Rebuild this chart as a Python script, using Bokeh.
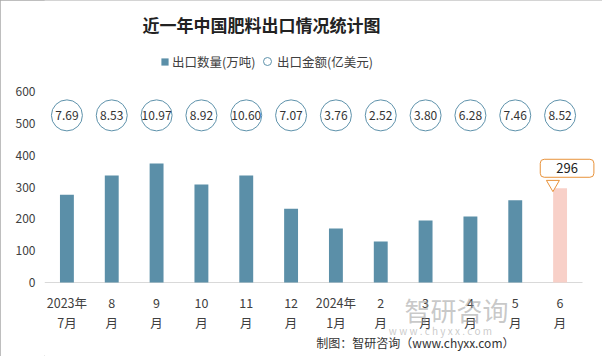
from bokeh.plotting import figure
from bokeh.models import (ColumnDataSource, Range1d, Label, Legend, LegendItem, FixedTicker)
from bokeh.transform import dodge
from bokeh.core.properties import value
from bokeh.embed import file_html
from bokeh.resources import INLINE

# ---------------- data ----------------
months_top = ["2023年", "8", "9", "10", "11", "12", "2024年", "2", "3", "4", "5", "6"]
months_bottom = ["7月", "月", "月", "月", "月", "月", "1月", "月", "月", "月", "月", "月"]
qty = [276, 336, 374, 308, 336, 232, 170, 129, 195, 207, 258, 296]          # 出口数量(万吨)
amount = [7.69, 8.53, 10.97, 8.92, 10.60, 7.07, 3.76, 2.52, 3.80, 6.28, 7.46, 8.52]  # 出口金额(亿美元)
y_ticks = [0, 100, 200, 300, 400, 500, 600]

title_text = "近一年中国肥料出口情况统计图"
legend_qty = "出口数量(万吨)"
legend_amt = "出口金额(亿美元)"
source_text = "制图：智研咨询（www.chyxx.com）"

# ---------------- layout / styles ----------------
W, H = 602, 356
LEFT, RIGHT = 44, 0            # frame borders (px)
Y_ZERO_PX, Y_TOP_PX = 282, 91  # page rows of value 0 and value 600
CAT_PX = 538 / 12              # width of one category (px)
FONT = "Noto Sans CJK SC"
BAR = "#5B8FA8"
HIGHLIGHT = "#F8D0C8"
ORANGE = "#E8923A"
TXT = "#404040"
CIRCLE_ROW = 525   # value level of the amount bubbles

unit_px = (Y_ZERO_PX - Y_TOP_PX) / 600.0
def ydata(py):
    return (Y_ZERO_PX - py) / unit_px

y_start = ydata(H)
y_end = ydata(0)
x_start = -0.5
x_end = x_start + (W - LEFT - RIGHT) / CAT_PX

n = len(qty)
idx = list(range(n))
bar_colors = [BAR] * (n - 1) + [HIGHLIGHT]
src = ColumnDataSource(dict(
    x=idx, q=qty, c=bar_colors,
    a=amount, al=[f"{v:.2f}" for v in amount],
    cy=[CIRCLE_ROW] * n,
    t1=months_top, t2=months_bottom,
    y1=[ydata(302)] * n, y2=[ydata(322)] * n,
))
last = ColumnDataSource(dict(x=[idx[-1]], q=[qty[-1]]))

p = figure(width=W, height=H, x_range=Range1d(x_start, x_end), y_range=Range1d(y_start, y_end),
           output_backend="svg", toolbar_location=None, x_axis_location=None,
           min_border_left=LEFT, min_border_right=RIGHT, min_border_top=0, min_border_bottom=0)
p.outline_line_color = None
p.background_fill_color = "white"
p.border_fill_color = "white"
p.xgrid.visible = False
p.ygrid.visible = False
p.styles = {"outline": "1px solid #A8A8A8", "outline-offset": "-1px"}

# category axis line
p.segment(x0=[x_start], x1=[n - 0.5], y0=[0], y1=[0], line_color="#D9D9D9", line_width=1)

bars = p.vbar(x="x", top="q", width=0.31, fill_color="c", line_color=None, source=src)

circ = p.scatter(x="x", y="cy", size=31, marker="circle", fill_color="white",
                 line_color="#5E92AB", line_width=1, source=src)
p.text(x="x", y="cy", text="al", text_align="center", text_baseline="middle",
       text_font=value(FONT), text_font_size="12px", text_color="#333333", source=src)

# category labels (two lines)
for col_t, col_y in (("t1", "y1"), ("t2", "y2")):
    p.text(x="x", y=col_y, text=col_t, text_align="center", text_baseline="middle",
           text_font=value(FONT), text_font_size="12.5px", text_color=TXT, source=src)

ya = p.yaxis[0]
ya.ticker = FixedTicker(ticks=y_ticks)
ya.axis_line_color = None
ya.major_tick_line_color = None
ya.minor_tick_line_color = None
ya.major_tick_out = 0
ya.major_tick_in = 0
ya.major_label_text_font = FONT
ya.major_label_text_font_size = "12px"
ya.major_label_text_color = TXT
ya.major_label_standoff = 9

# callout for the latest month
tri = p.scatter(x=dodge("x", -0.16), y=dodge("q", 13),
                marker="inverted_triangle", size=13, fill_color="white",
                line_color=ORANGE, line_width=1, source=last)
p.add_layout(Label(x=idx[-1], y=qty[-1], text=str(qty[-1]), x_offset=7, y_offset=20,
                   text_align="center", text_baseline="middle", text_font=FONT,
                   text_font_size="13px", text_color="#222222",
                   background_fill_color="white", border_line_color=ORANGE,
                   border_line_width=1, border_radius=4, padding=(16, 4)))

# legends (two, so each marker gets its own glyph size)
leg1 = Legend(items=[LegendItem(label=legend_qty, renderers=[bars], index=0)],
              location=(116, 285), orientation="horizontal", glyph_width=9, glyph_height=9,
              label_standoff=3, padding=0, margin=0, border_line_color=None,
              background_fill_alpha=0, label_text_font=FONT, label_text_font_size="12.5px",
              label_text_color=TXT, label_height=9)
leg2 = Legend(items=[LegendItem(label=legend_amt, renderers=[circ], index=0)],
              location=(213, 285), orientation="horizontal", glyph_width=20, glyph_height=20,
              label_standoff=0, padding=0, margin=0, border_line_color=None,
              background_fill_alpha=0, label_text_font=FONT, label_text_font_size="12.5px",
              label_text_color=TXT)
p.add_layout(leg1, "center")
p.add_layout(leg2, "center")

# title, watermark, source (screen units relative to the frame's bottom-left)
def sx(px):
    return px - LEFT
def sy(py):
    return H - py

p.add_layout(Label(x=sx(261), y=sy(24), x_units="screen", y_units="screen", text=title_text,
                   text_align="center", text_baseline="middle", text_font=FONT,
                   text_font_size="17px", text_font_style="bold", text_color="#222222"))
p.add_layout(Label(x=sx(456), y=sy(309), x_units="screen", y_units="screen", text="智研咨询",
                   text_align="center", text_baseline="middle", text_font=FONT,
                   text_font_size="26px", text_color="#9A9A9A", text_alpha=0.55))
p.add_layout(Label(x=sx(440), y=sy(330), x_units="screen", y_units="screen",
                   text="w w w . c h y x x . c o m",
                   text_align="center", text_baseline="middle", text_font=FONT,
                   text_font_size="10px", text_color="#A8A8A8", text_alpha=0.6))
p.add_layout(Label(x=sx(514), y=sy(342), x_units="screen", y_units="screen", text=source_text,
                   text_align="right", text_baseline="middle", text_font=FONT,
                   text_font_size="12px", text_color="#333333"))

open("out.html", "w").write(file_html(p, INLINE))
